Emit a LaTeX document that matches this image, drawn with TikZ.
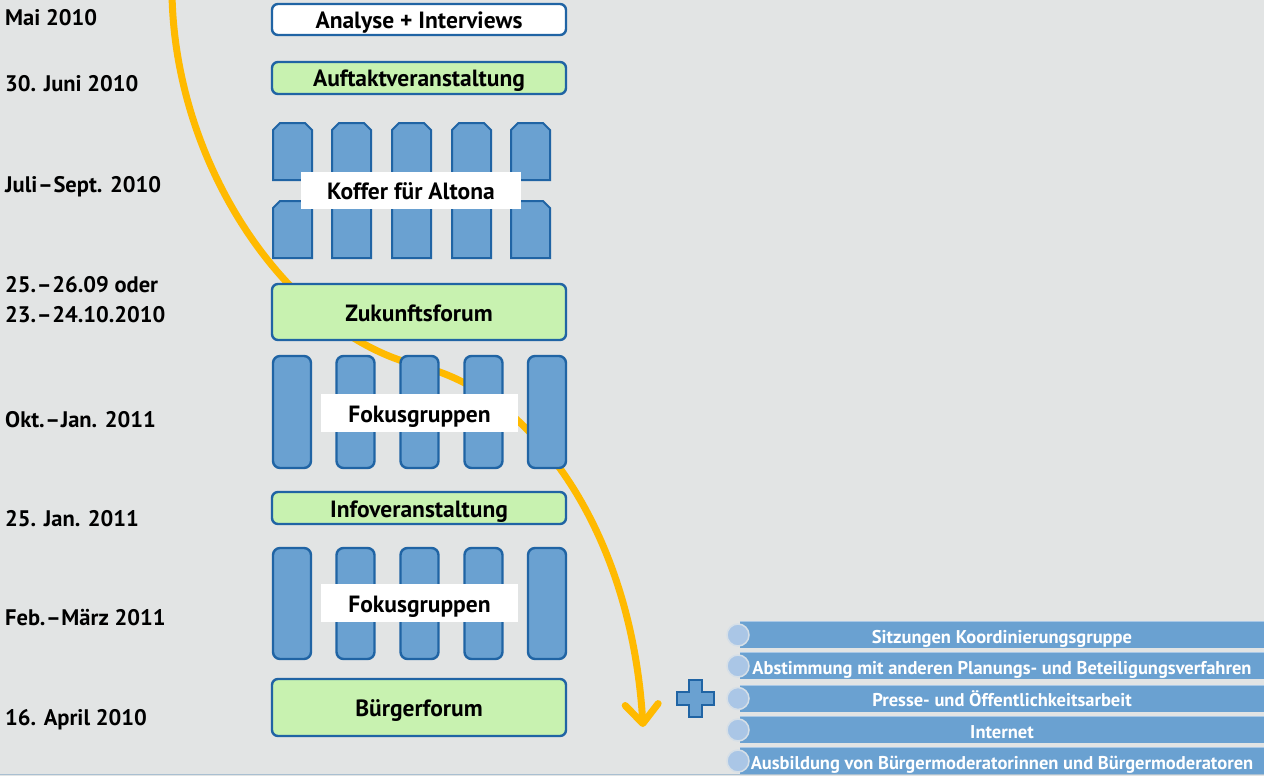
\documentclass[tikz,border=0pt]{standalone}
\usepackage{fontspec}
\setmainfont{PT Sans}
\usetikzlibrary{arrows.meta}
\definecolor{bgc}{HTML}{E2E4E4}
\definecolor{edge}{HTML}{2064A4}
\definecolor{barblue}{HTML}{6AA1D1}
\definecolor{mint}{HTML}{C8F2B0}
\definecolor{amber}{HTML}{FFBA00}
\definecolor{dot}{HTML}{AAC6E6}
\definecolor{dotrim}{HTML}{D6DFE7}
\definecolor{barrim}{HTML}{A9C8E6}
\definecolor{footline}{HTML}{A9BFD1}
\newcommand\spandash{\kern0.6pt–\kern0.6pt}
\begin{document}
\begin{tikzpicture}[x=1pt,y=-1pt,
  stage/.style={draw=edge, line width=2.4pt, rounded corners=6pt, minimum width=294pt,
    inner sep=0pt, text height=21pt, text depth=3pt,
    font=\bfseries\fontsize{23.5}{25}\selectfont},
  fokusbar/.style={draw=edge, fill=barblue, line width=2.4pt, rounded corners=7pt,
    minimum width=38pt, inner sep=0pt},
  koffer/.style={draw=edge, fill=barblue, line width=2pt},
  tag/.style={fill=white, inner sep=0pt, text height=21pt, text depth=3pt,
    font=\bfseries\fontsize{23.5}{25}\selectfont},
  date/.style={anchor=base west, inner sep=0pt, font=\bfseries\fontsize{22.5}{24}\selectfont},
  sidebar/.style={fill=barblue, minimum width=524pt, minimum height=26pt, inner sep=0pt,
    text height=17pt, text depth=0.5pt,
    text=white, font=\bfseries\fontsize{18.5}{20}\selectfont},
  bullet/.style={circle, fill=dot, draw=dotrim, line width=1.5pt, minimum size=22pt, inner sep=0pt},
  flow/.style={draw=amber, line width=7pt,
    -{Straight Barb[length=19pt,width=33pt,round]}}
]
% canvas
\fill[bgc] (0,0) rectangle (1264,776);
\useasboundingbox (0,0) rectangle (1264,776);
\draw[footline, line width=1.5pt] (0,774.5) -- (1264,774.5);

% the yellow process arrow, behind everything else
\coordinate (a0) at (172,-6);
\coordinate (a1) at (420,366);
\coordinate (a2) at (643,727);
\draw[flow] (a0) .. controls (175,170) and (292,336) .. (a1)
                 .. controls (540,396) and (632,540) .. (a2);

% dates
\node[date] (d1) at (5,26)  {Mai 2010};
\node[date] (d2) at (5,92)  {30. Juni 2010};
\node[date] (d3) at (5,192) {Juli\spandash Sept. 2010};
\node[date] (d4) at (5,292) {25.\spandash 26.09 oder};
\node[date] (d5) at (5,322) {23.\spandash 24.10.2010};
\node[date] (d6) at (5,427) {Okt.\spandash Jan. 2011};
\node[date] (d7) at (5,526) {25. Jan. 2011};
\node[date] (d8) at (5,625) {Feb.\spandash März 2011};
\node[date] (d9) at (5,725) {16. April 2010};

% single events
\node[stage, fill=white, minimum height=31pt] (analyse) at (419,19.5) {Analyse + Interviews};
\node[stage, fill=mint, minimum height=32pt] (auftakt) at (419,78) {Auftaktveranstaltung};

% suitcases: two rows of five
\foreach \k/\x in {1/272,2/331,3/391,4/451,5/510}{
  \foreach \r/\y in {a/123,b/201}{
    \draw[koffer] (\x+1,\y+57) -- (\x+1,\y+7) -- (\x+8,\y) -- (\x+33,\y)
      -- (\x+40,\y+7) -- (\x+40,\y+57) -- cycle;
  }
}
\node[tag, minimum width=220pt, minimum height=37pt] (koffer) at (411,190.5) {Koffer für Altona};

\node[stage, fill=mint, minimum height=56pt] (zukunft) at (419,312) {Zukunftsforum};

% first round of focus groups
\foreach \i/\x in {1/292,2/355.5,3/419.5,4/483.5,5/547}{
  \node[fokusbar, minimum height=112pt] (fa\i) at (\x,412) {};
}
\node[tag, minimum width=197pt, minimum height=38pt] (fokusA) at (419.5,413) {Fokusgruppen};

\node[stage, fill=mint, minimum height=32pt] (info) at (419,508) {Infoveranstaltung};

% second round of focus groups
\foreach \i/\x in {1/292,2/355.5,3/419.5,4/483.5,5/547}{
  \node[fokusbar, minimum height=111pt] (fb\i) at (\x,603.5) {};
}
\node[tag, minimum width=197pt, minimum height=38pt] (fokusB) at (419.5,603) {Fokusgruppen};

\node[stage, fill=mint, minimum height=57pt] (buerger) at (419,707.5) {Bürgerforum};

% plus sign
\draw[draw=edge, fill=barblue, line width=2pt]
  (689,680) -- (702,680) -- (702,692) -- (714,692) -- (714,705) -- (702,705)
  -- (702,717) -- (689,717) -- (689,705) -- (677,705) -- (677,692) -- (689,692) -- cycle;

% accompanying activities
\foreach \i/\y/\t in {1/635/{Sitzungen Koordinierungsgruppe},
                      2/666/{Abstimmung mit anderen Planungs- und Beteiligungsverfahren},
                      3/698.5/{Presse- und Öffentlichkeitsarbeit},
                      4/730/{Internet},
                      5/761/{Ausbildung von Bürgermoderatorinnen und Bürgermoderatoren}}{
  \node[sidebar] (s\i) at (1002,\y) {\t};
  \draw[barrim, line width=1pt] (s\i.north west) -- (s\i.north east);
  \node[bullet] (c\i) at (738,\y) {};
}
\end{tikzpicture}
\end{document}
